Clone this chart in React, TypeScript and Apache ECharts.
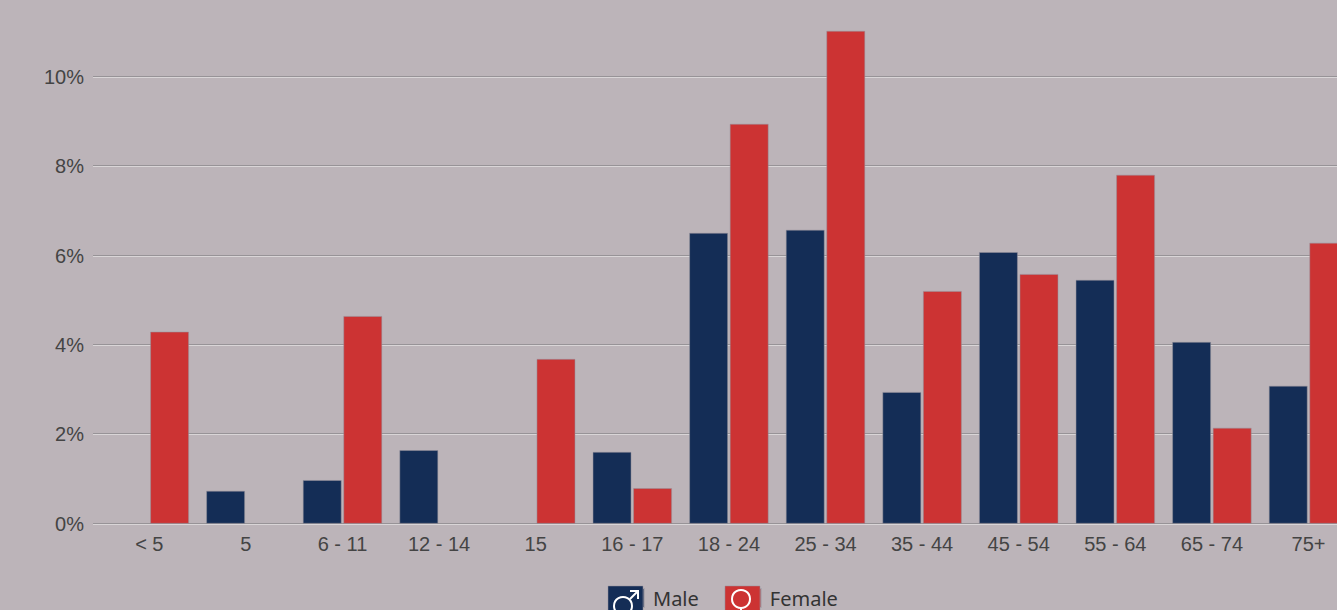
import React, { useEffect, useRef } from "react";
import * as echarts from "echarts";

const categories = ["< 5", "5", "6 - 11", "12 - 14", "15", "16 - 17", "18 - 24", "25 - 34", "35 - 44", "45 - 54", "55 - 64", "65 - 74", "75+"];
const male = [null, 0.74, 0.98, 1.65, null, 1.61, 6.51, 6.58, 2.95, 6.08, 5.46, 4.07, 3.09];
const female = [4.3, null, 4.65, null, 3.69, 0.8, 8.95, 11.03, 5.21, 5.59, 7.81, 2.15, 6.29];

const NAVY = "#142d56";
const RED = "#cc3333";
const BG = "#bcb4b9";
const PX_PER_UNIT = 44.7;
const ZERO_Y = 524;
const MAX = 12;
const TOP = ZERO_Y - MAX * PX_PER_UNIT;
const HEIGHT = MAX * PX_PER_UNIT;

export default function App() {
  const ref = useRef<HTMLDivElement>(null);
  useEffect(() => {
    const chart = echarts.init(ref.current!, null, { renderer: "svg" });
    const yBase = { type: "value", min: 0, max: MAX, interval: 2 };
    const barStyle = (color: string) => ({ color, borderColor: "rgba(150,146,155,0.5)", borderWidth: 1 });
    const noAxisParts = { axisLine: { show: false }, axisTick: { show: false }, axisLabel: { show: false } };
    const swatch = (x: number, fill: string) => ({
      type: "rect",
      z: 99,
      shape: { x, y: 586, width: 35, height: 35 },
      style: { fill, stroke: "rgba(150,146,155,0.5)", lineWidth: 1 },
    });
    const white = { fill: "none", stroke: "#ffffff", lineWidth: 2 };
    chart.setOption({
      animation: false,
      backgroundColor: BG,
      grid: [
        { left: 93, width: 1244, top: TOP - 1, height: HEIGHT, outerBoundsMode: "none" },
        { left: 93, width: 1244, top: TOP, height: HEIGHT, outerBoundsMode: "none" },
        { left: 101, width: 1255.8, top: TOP - 0.2, height: HEIGHT, outerBoundsMode: "none" },
      ],
      xAxis: [
        { gridIndex: 0, type: "category", data: [], show: false },
        { gridIndex: 1, type: "category", data: [], show: false },
        {
          gridIndex: 2,
          type: "category",
          data: categories,
          axisLine: { show: false },
          axisTick: { show: false },
          axisLabel: { color: "#444444", fontFamily: "Liberation Sans", fontSize: 20, margin: 10, interval: 0 },
        },
      ],
      yAxis: [
        {
          ...yBase,
          gridIndex: 0,
          ...noAxisParts,
          splitLine: { show: true, lineStyle: { color: "#979397", width: 1 } },
        },
        {
          ...yBase,
          gridIndex: 1,
          ...noAxisParts,
          splitLine: { show: true, lineStyle: { color: "#d9d5d7", width: 1 } },
        },
        {
          ...yBase,
          gridIndex: 2,
          axisLine: { show: false },
          axisTick: { show: false },
          splitLine: { show: false },
          axisLabel: {
            color: "#444444",
            fontFamily: "Liberation Sans",
            fontSize: 20,
            margin: 17,
            formatter: (v: number) => (v > 10 ? "" : v + "%"),
          },
        },
      ],
      legend: {
        left: 608,
        top: 588,
        itemWidth: 35,
        itemHeight: 18,
        itemGap: 26,
        padding: 0,
        icon: "rect",
        textStyle: { color: "#333333", fontFamily: "Noto Sans", fontSize: 20, padding: [0, 0, 0, 4] },
        data: ["Male", "Female"],
      },
      series: [
        {
          name: "Male",
          type: "bar",
          xAxisIndex: 2,
          yAxisIndex: 2,
          data: male,
          barWidth: 39,
          barGap: "4%",
          itemStyle: barStyle(NAVY),
        },
        {
          name: "Female",
          type: "bar",
          xAxisIndex: 2,
          yAxisIndex: 2,
          data: female,
          barWidth: 39,
          barGap: "4%",
          itemStyle: barStyle(RED),
        },
      ],
      graphic: [
        swatch(608, NAVY),
        swatch(725, RED),
        { type: "circle", z: 100, shape: { cx: 623, cy: 606, r: 9 }, style: white },
        { type: "polyline", z: 100, shape: { points: [[630, 599], [638, 591]] }, style: white },
        { type: "polyline", z: 100, shape: { points: [[630, 591], [638, 591], [638, 599]] }, style: white },
        { type: "circle", z: 100, shape: { cx: 741, cy: 599, r: 9 }, style: white },
        { type: "line", z: 100, shape: { x1: 741, y1: 608, x2: 741, y2: 612 }, style: { stroke: "#ffffff", lineWidth: 2 } },
      ],
    });
    return () => chart.dispose();
  }, []);
  return <div ref={ref} style={{ position: "fixed", left: 0, top: 0, width: 1337, height: 610 }} />;
}
